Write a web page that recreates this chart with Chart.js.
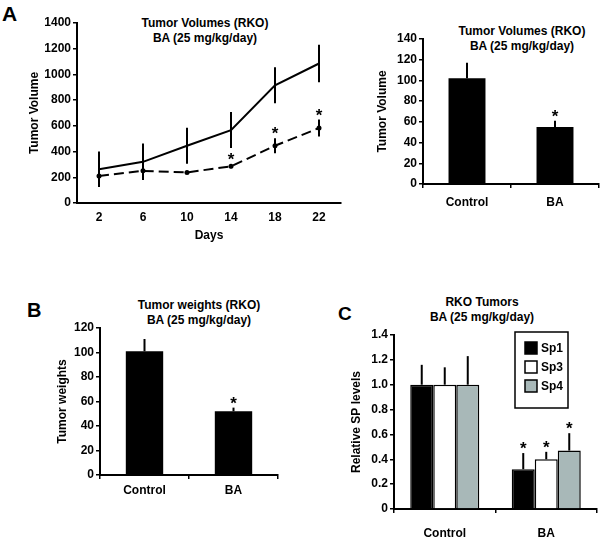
<!DOCTYPE html>
<html>
<head>
<meta charset="utf-8">
<style>
  body { margin: 0; width: 600px; height: 540px; position: relative; background: #fff; overflow: hidden;
         font-family: "Liberation Sans", Arial, sans-serif; color: #000; }
  canvas { position: absolute; }
  .letter { position: absolute; font-weight: bold; font-size: 20px; line-height: 20px; }
  .ttl { position: absolute; width: 220px; font-weight: bold; font-size: 12px; line-height: 15px;
         text-align: center; white-space: nowrap; }
</style>
</head>
<body>
<div class="letter" style="left:2px;top:3px;font-size:21px;line-height:21px">A</div>
<div class="letter" style="left:27px;top:300px">B</div>
<div class="letter" style="left:338px;top:304px;font-size:19px;line-height:19px">C</div>

<div class="ttl" style="left:95px;top:16px">Tumor Volumes (RKO)<br>BA (25 mg/kg/day)</div>
<div class="ttl" style="left:412px;top:24px">Tumor Volumes (RKO)<br>BA (25 mg/kg/day)</div>
<div class="ttl" style="left:89px;top:298px">Tumor weights (RKO)<br>BA (25 mg/kg/day)</div>
<div class="ttl" style="left:372px;top:295px">RKO Tumors<br>BA (25 mg/kg/day)</div>

<canvas id="volLine" width="345" height="250" style="left:0;top:0"></canvas>
<canvas id="volBar" width="255" height="230" style="left:345px;top:0"></canvas>
<canvas id="weightBar" width="285" height="220" style="left:0;top:280px"></canvas>
<canvas id="spBar" width="300" height="260" style="left:300px;top:280px"></canvas>

<script src="https://cdn.jsdelivr.net/npm/chart.js"></script>
<script>
  // panel A, left: tumor volume over time
  const days = ["2", "6", "10", "14", "18", "22"];
  const volControl = [263, 320, 445, 567, 915, 1085];
  const volControlErr = [138, 142, 140, 140, 140, 145];
  const volBA = [210, 250, 238, 285, 445, 583];
  const volBAErr = [85, 65, 0, 15, 58, 66];
  const volBASig = [0, 0, 0, 1, 1, 1];

  // panel A, right: final tumor volume
  const groups = ["Control", "BA"];
  const finalVolume = [102, 55];
  const finalVolumeErr = [15, 6];
  const finalVolumeSig = [0, 1];

  // panel B: tumor weights
  const tumorWeight = [101, 52];
  const tumorWeightErr = [10, 3];
  const tumorWeightSig = [0, 1];

  // panel C: relative Sp levels
  const sp1 = [1.0, 0.32];
  const sp1Err = [0.16, 0.13];
  const sp3 = [1.0, 0.40];
  const sp3Err = [0.14, 0.06];
  const sp4 = [1.0, 0.47];
  const sp4Err = [0.23, 0.14];
  const spSig = [0, 1];

  Chart.defaults.font.family = '"Liberation Sans", Arial, sans-serif';
  Chart.defaults.font.size = 12;
  Chart.defaults.font.weight = "bold";
  Chart.defaults.color = "#000";

  // vertical error bars (no caps) and significance stars
  const errorBars = {
    id: "errorBars",
    afterDatasetsDraw(chart) {
      const ctx = chart.ctx;
      const y = chart.scales.y;
      chart.data.datasets.forEach((ds, i) => {
        if (!ds.err) return;
        const meta = chart.getDatasetMeta(i);
        meta.data.forEach((el, j) => {
          const v = ds.data[j];
          const e = ds.err[j];
          const top = y.getPixelForValue(v + e);
          const bot = y.getPixelForValue(ds.errBoth ? v - e : v);
          ctx.save();
          if (e > 0) {
            ctx.strokeStyle = "#000";
            ctx.lineWidth = 2;
            ctx.beginPath();
            ctx.moveTo(el.x, top);
            ctx.lineTo(el.x, bot);
            ctx.stroke();
          }
          if (ds.sig && ds.sig[j]) {
            ctx.fillStyle = "#000";
            ctx.font = 'bold 17px "Liberation Sans", Arial, sans-serif';
            ctx.textAlign = "center";
            ctx.textBaseline = "alphabetic";
            ctx.fillText("*", el.x, top + 1);
          }
          ctx.restore();
        });
      });
    },
  };

  // boxed legend inside the plot area (panel C)
  const boxLegend = {
    id: "boxLegend",
    afterDraw(chart) {
      if (!chart.options.plugins.boxLegend) return;
      const a = chart.chartArea;
      const ctx = chart.ctx;
      const x0 = a.left + 121;
      const y0 = a.top - 3;
      ctx.save();
      ctx.fillStyle = "#fff";
      ctx.fillRect(x0, y0, 53, 76);
      ctx.strokeStyle = "#000";
      ctx.lineWidth = 1.5;
      ctx.strokeRect(x0, y0, 53, 76);
      ctx.font = 'bold 12px "Liberation Sans", Arial, sans-serif';
      ctx.textBaseline = "middle";
      chart.data.datasets.forEach((ds, i) => {
        const cy = y0 + 16 + i * 19;
        ctx.fillStyle = ds.backgroundColor;
        ctx.fillRect(x0 + 10, cy - 6, 12, 12);
        ctx.strokeRect(x0 + 10, cy - 6, 12, 12);
        ctx.fillStyle = "#000";
        ctx.fillText(ds.label, x0 + 26, cy + 1);
      });
      ctx.restore();
    },
  };

  function scales(o) {
    return {
      x: {
        offset: true,
        border: { color: "#000", width: 2 },
        grid: {
          display: o.xTicks,
          drawOnChartArea: false,
          drawTicks: o.xTicks,
          tickLength: 4,
          color: "#000",
          lineWidth: 1.5,
        },
        ticks: { padding: o.xPad, maxRotation: 0 },
        title: o.xTitle
          ? { display: true, text: o.xTitle, padding: { top: 0, bottom: 7 } }
          : { display: false },
        afterFit: (s) => {
          s.height = o.xH;
        },
      },
      y: {
        min: 0,
        max: o.max,
        border: { color: "#000", width: 2 },
        grid: { drawOnChartArea: false, tickLength: 4, color: "#000", lineWidth: 1.5 },
        ticks: { stepSize: o.step, padding: 2, callback: o.fmt },
        title: { display: true, text: o.yTitle, padding: 0 },
        afterFit: (s) => {
          s.width = o.yW;
        },
      },
    };
  }

  const noLegend = { legend: { display: false }, tooltip: { enabled: false } };

  new Chart(document.getElementById("volLine"), {
    type: "line",
    data: {
      labels: days,
      datasets: [
        {
          label: "Control",
          data: volControl,
          err: volControlErr,
          errBoth: true,
          borderColor: "#000",
          borderWidth: 2,
          pointRadius: 0,
          tension: 0,
        },
        {
          label: "BA",
          data: volBA,
          err: volBAErr,
          errBoth: true,
          sig: volBASig,
          borderColor: "#000",
          backgroundColor: "#000",
          borderWidth: 2,
          borderDash: [10, 5],
          pointRadius: 2.5,
          pointBorderWidth: 0,
          tension: 0,
        },
      ],
    },
    options: {
      responsive: false,
      animation: false,
      layout: { padding: { left: 27, top: 23, right: 4, bottom: 0 } },
      plugins: noLegend,
      scales: scales({
        max: 1400, step: 200, yTitle: "Tumor Volume", yW: 50,
        xH: 47, xPad: 7, xTicks: false, xTitle: "Days",
      }),
    },
    plugins: [errorBars],
  });

  new Chart(document.getElementById("volBar"), {
    type: "bar",
    data: {
      labels: groups,
      datasets: [
        {
          data: finalVolume,
          err: finalVolumeErr,
          sig: finalVolumeSig,
          backgroundColor: "#000",
          barPercentage: 0.42,
          categoryPercentage: 1,
        },
      ],
    },
    options: {
      responsive: false,
      animation: false,
      layout: { padding: { left: 30, top: 39, right: 1, bottom: 0 } },
      plugins: noLegend,
      scales: scales({
        max: 140, step: 20, yTitle: "Tumor Volume", yW: 48,
        xH: 46, xPad: 7, xTicks: true,
      }),
    },
    plugins: [errorBars],
  });

  new Chart(document.getElementById("weightBar"), {
    type: "bar",
    data: {
      labels: groups,
      datasets: [
        {
          data: tumorWeight,
          err: tumorWeightErr,
          sig: tumorWeightSig,
          backgroundColor: "#000",
          barPercentage: 0.42,
          categoryPercentage: 1,
        },
      ],
    },
    options: {
      responsive: false,
      animation: false,
      layout: { padding: { left: 55, top: 48, right: 7, bottom: 0 } },
      plugins: noLegend,
      scales: scales({
        max: 120, step: 20, yTitle: "Tumor weights", yW: 45,
        xH: 25, xPad: 4, xTicks: true,
      }),
    },
    plugins: [errorBars],
  });

  const spStyle = {
    borderColor: "#000",
    borderWidth: 1.5,
    barPercentage: 1,
    categoryPercentage: 0.68,
  };

  new Chart(document.getElementById("spBar"), {
    type: "bar",
    data: {
      labels: groups,
      datasets: [
        { label: "Sp1", data: sp1, err: sp1Err, sig: spSig, backgroundColor: "#000", ...spStyle },
        { label: "Sp3", data: sp3, err: sp3Err, sig: spSig, backgroundColor: "#fff", ...spStyle },
        { label: "Sp4", data: sp4, err: sp4Err, sig: spSig, backgroundColor: "#a8b8b8", ...spStyle },
      ],
    },
    options: {
      responsive: false,
      animation: false,
      layout: { padding: { left: 49, top: 55, right: 3, bottom: 0 } },
      plugins: { ...noLegend, boxLegend: true },
      scales: scales({
        max: 1.4, step: 0.2, yTitle: "Relative SP levels", yW: 45,
        xH: 31, xPad: 13, xTicks: true,
        fmt: (v) => (v === 0 ? "0" : v.toFixed(1)),
      }),
    },
    plugins: [errorBars, boxLegend],
  });
</script>
</body>
</html>
